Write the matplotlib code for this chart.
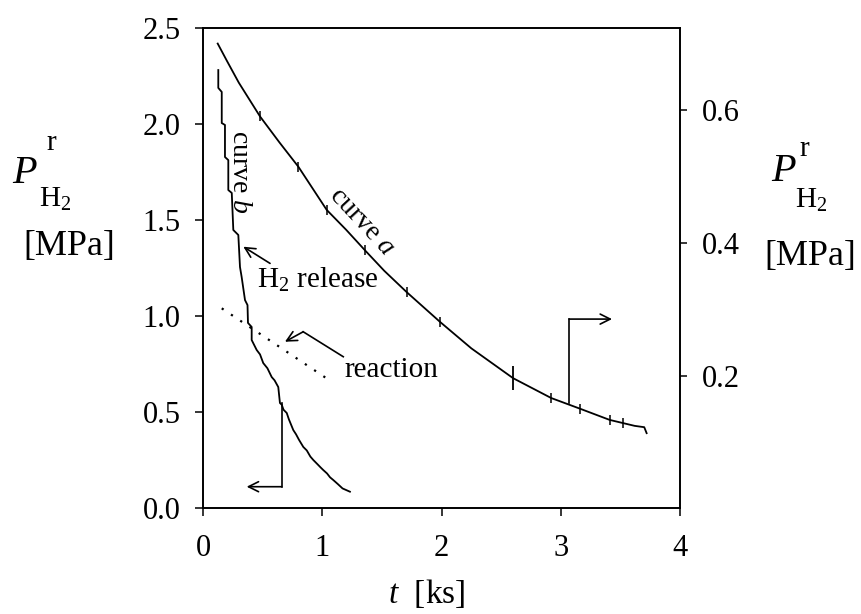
import matplotlib
matplotlib.use("Agg")
import matplotlib.pyplot as plt

plt.rcParams['font.family'] = ['Liberation Serif', 'DejaVu Serif']
plt.rcParams['mathtext.fontset'] = 'custom'
plt.rcParams['mathtext.rm'] = 'Liberation Serif'
plt.rcParams['mathtext.it'] = 'Liberation Serif:italic'
plt.rcParams['mathtext.bf'] = 'Liberation Serif:bold'

# ---- data ----
# curve a (right axis, MPa)
t_a = [0.123, 0.20, 0.30, 0.478, 0.64, 0.80, 1.037, 1.20, 1.358, 1.52, 1.707,
       1.987, 2.25, 2.60, 2.92, 3.16, 3.41, 3.62, 3.70, 3.72]
p_a = [0.701, 0.675, 0.642, 0.591, 0.552, 0.515, 0.450, 0.420, 0.389, 0.358,
       0.326, 0.281, 0.241, 0.196, 0.166, 0.150, 0.133, 0.124, 0.122, 0.113]
# small scanner marks on curve a
spike_t = [0.48, 0.80, 1.04, 1.36, 1.71, 1.99, 2.92, 3.16, 3.41, 3.52]
spike_p = [0.591, 0.515, 0.450, 0.389, 0.326, 0.281, 0.166, 0.150, 0.133, 0.129]
big_spike_t = [2.60]
big_spike_p = [0.196]

# curve b (left axis, MPa)
t_b = [0.128, 0.128, 0.157, 0.157, 0.184, 0.184, 0.212, 0.212, 0.241, 0.254,
       0.296, 0.310, 0.324, 0.352, 0.373, 0.377, 0.408, 0.408, 0.450, 0.478,
       0.505, 0.540, 0.576, 0.600, 0.631, 0.645, 0.660, 0.675, 0.702, 0.720,
       0.757, 0.780, 0.805, 0.841, 0.870, 0.900, 0.925, 0.960, 0.985, 1.008,
       1.040, 1.065, 1.092, 1.130, 1.170, 1.232]
p_b = [2.281, 2.188, 2.167, 2.005, 1.995, 1.828, 1.812, 1.656, 1.641, 1.448,
       1.422, 1.255, 1.203, 1.083, 1.057, 0.964, 0.943, 0.875, 0.823, 0.800,
       0.755, 0.728, 0.682, 0.665, 0.630, 0.547, 0.538, 0.512, 0.495, 0.462,
       0.406, 0.384, 0.355, 0.318, 0.300, 0.268, 0.250, 0.228, 0.212, 0.198,
       0.180, 0.160, 0.146, 0.125, 0.102, 0.085]

# reaction (dotted) line, left axis
t_r = [0.157, 1.037]
p_r = [1.04, 0.675]

xticks = [0, 1, 2, 3, 4]
yticks_left = [0.0, 0.5, 1.0, 1.5, 2.0, 2.5]
yticks_right = [0.2, 0.4, 0.6]

# ---- figure ----
W, H = 861, 614
fig = plt.figure(figsize=(8.61, 6.14), dpi=100)
ax = fig.add_axes([0.2358, 0.1726, 0.5540, 0.7818])
ax2 = ax.twinx()

lw = 1.3
ax.plot(t_b, p_b, color='black', lw=lw)
ax.plot(t_r, p_r, color='black', lw=1.6, linestyle=(0, (1, 4)))
ax2.plot(t_a, p_a, color='black', lw=lw)
ax2.plot(spike_t, spike_p, ls='none', marker='|', ms=7, mew=1.1, color='black')
ax2.plot(big_spike_t, big_spike_p, ls='none', marker='|', ms=17, mew=1.3, color='black')

ax.set_xlim(0, 4)
ax.set_ylim(0, 2.5)
ax2.set_ylim(0, 0.7245)

ax.set_xticks(xticks)
ax.set_xticklabels([str(v) for v in xticks])
ax.set_yticks(yticks_left)
ax.set_yticklabels([f"{v:.1f}" for v in yticks_left])
ax2.set_yticks(yticks_right)
ax2.set_yticklabels([f"{v:.1f}" for v in yticks_right])

for a in (ax, ax2):
    for s in a.spines.values():
        s.set_linewidth(1.2)
ax.tick_params(axis='both', direction='out', length=6, width=1.1, labelsize=22)
ax.tick_params(axis='y', pad=10)
ax.tick_params(axis='x', pad=13)
ax2.tick_params(axis='y', direction='out', length=5, width=1.1, labelsize=22, pad=11)


def plabel(xp, yp_base, xr, yr_base, xh, yh_base, xm, ym):
    fig.text(xp / W, 1 - yp_base / H, 'P', fontsize=29, style='italic',
             ha='left', va='baseline')
    fig.text(xr / W, 1 - yr_base / H, 'r', fontsize=21, ha='left', va='baseline')
    fig.text(xh / W, 1 - yh_base / H, r'H$_{2}$', fontsize=21,
             ha='left', va='baseline')
    fig.text(xm / W, 1 - ym / H, '[MPa]', fontsize=26, ha='center', va='center')


plabel(12, 183, 46, 150, 39, 207, 69, 246)
plabel(771, 181, 799, 156, 795, 208, 810, 257)

fig.text(427 / W, 1 - 603 / H, r'$t$  [ks]', fontsize=24, ha='center', va='baseline')

# annotations
ax.text(0.31, 1.75, r'curve $b$', fontsize=20, rotation=-90,
        ha='center', va='center', rotation_mode='anchor')
ax.text(1.33, 1.49, r'curve $a$', fontsize=20, rotation=-47,
        ha='center', va='center', rotation_mode='anchor')
ax.text(0.45, 1.146, r'H$_2$ release', fontsize=21, ha='left', va='baseline')
ax.text(1.19, 0.684, 'reaction', fontsize=21, ha='left', va='baseline')

arrow = dict(arrowstyle='->', color='black', lw=1.2, mutation_scale=18,
             shrinkA=0, shrinkB=0)
ax.annotate('', xy=(0.338, 1.361), xytext=(0.562, 1.274), arrowprops=arrow)
ax.plot([1.176, 0.84], [0.788, 0.918], color='black', lw=1.2)
ax.annotate('', xy=(0.687, 0.866), xytext=(0.84, 0.918), arrowprops=arrow)
ax.plot([0.66, 0.66], [0.545, 0.111], color='black', lw=1.2)
ax.annotate('', xy=(0.366, 0.111), xytext=(0.66, 0.111), arrowprops=arrow)
ax.plot([3.07, 3.07], [0.547, 0.984], color='black', lw=1.2)
ax.annotate('', xy=(3.43, 0.984), xytext=(3.07, 0.984), arrowprops=arrow)

fig.savefig('out.png', dpi=100)
